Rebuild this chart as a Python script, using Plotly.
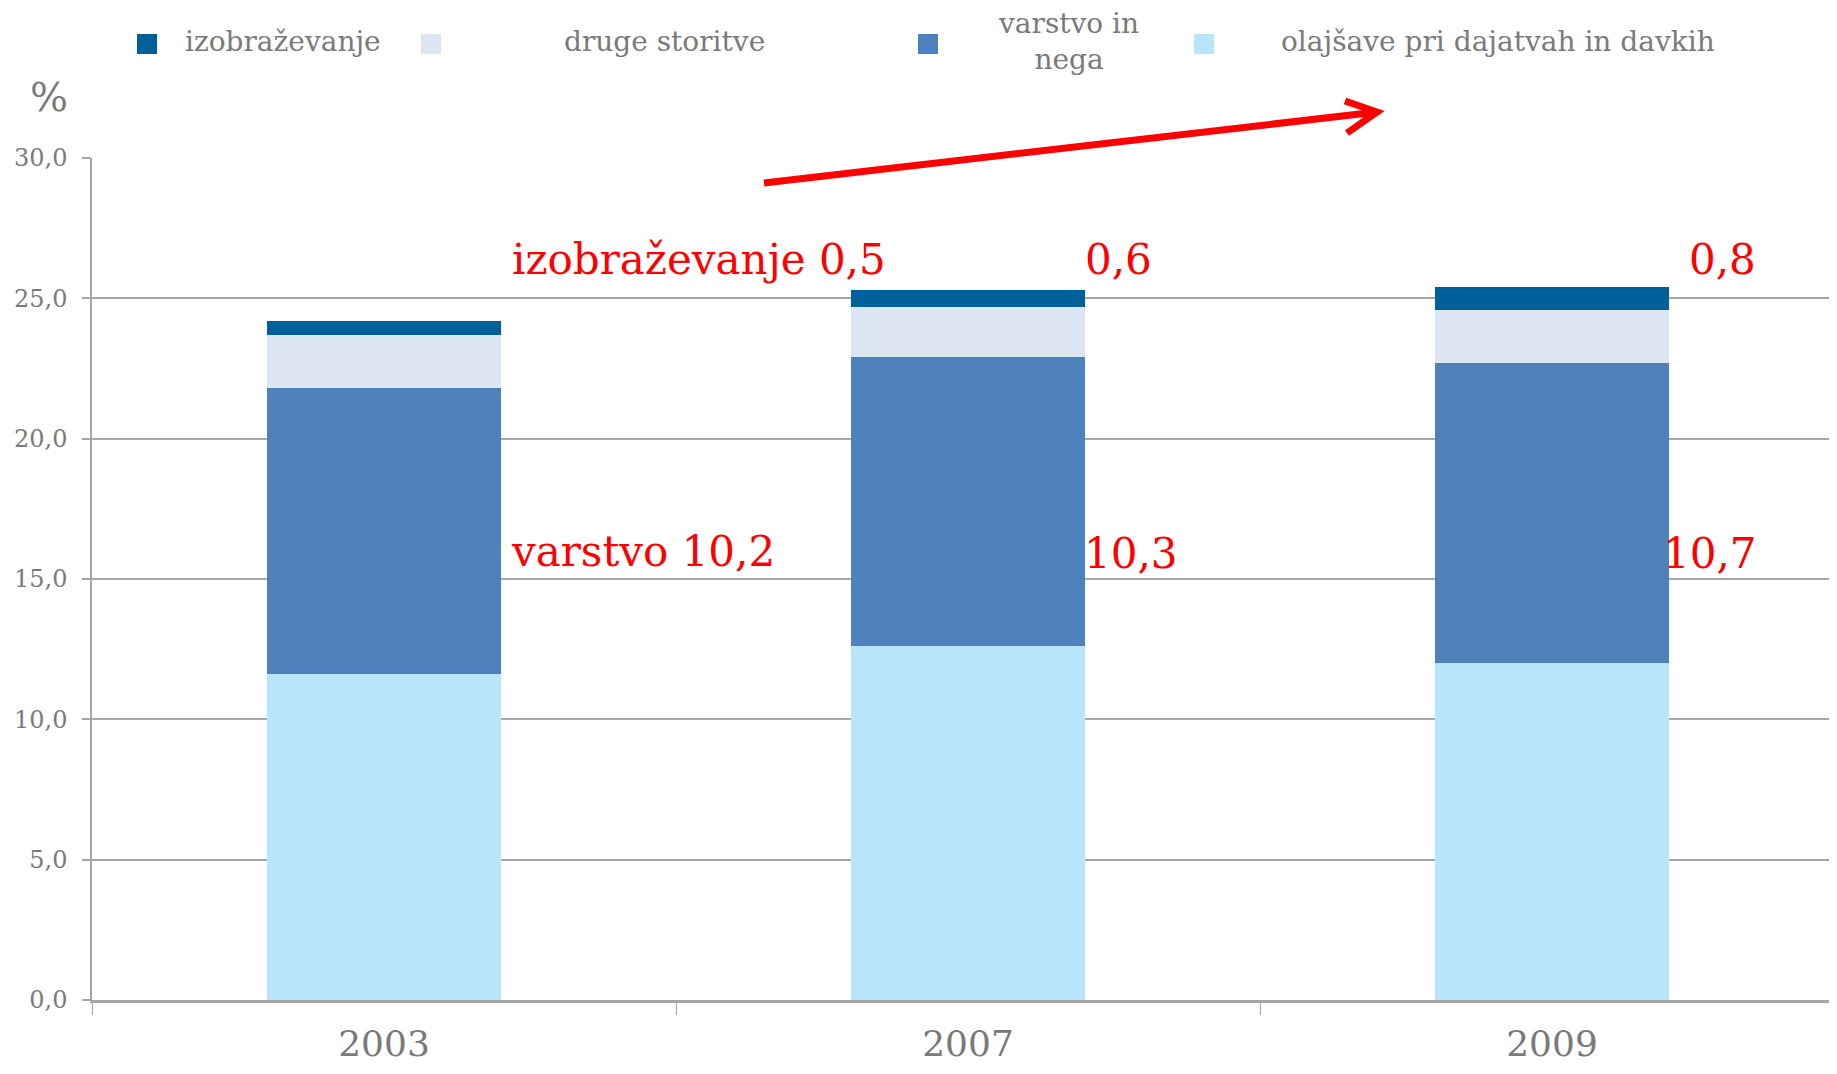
import plotly.graph_objects as go

years = ["2003", "2007", "2009"]
olajsave = [11.6, 12.6, 12.0]
varstvo = [10.2, 10.3, 10.7]
druge = [1.9, 1.8, 1.9]
izobrazevanje = [0.5, 0.6, 0.8]

names = ["izobraževanje", "druge storitve", "varstvo in<br>nega", "olajšave pri dajatvah in davkih"]
colors = {"izob": "#00619A", "druge": "#DCE6F2", "varstvo": "#4F81BD", "olaj": "#B9E5FB"}

OFF = 8  # page body margin
W, H = 1837 - 2 * OFF, 1074 - 2 * OFF
L, R, T = 92 - OFF, 0, 158 - OFF
B = H - (1000 - OFF)
PW, PH = W - L - R, H - T - B

def px(x):
    return (x - OFF - L) / PW

def py(y):
    return (H - B - (y - OFF)) / PH

FONT = "DejaVu Serif"
GRAY = "#7a7a7a"
LINE = "#a6a6a6"

fig = go.Figure()
for vals, key, nm in [(olajsave, "olaj", names[3]), (varstvo, "varstvo", names[2]),
                      (druge, "druge", names[1]), (izobrazevanje, "izob", names[0])]:
    fig.add_trace(go.Bar(x=years, y=vals, name=nm, marker=dict(color=colors[key], line=dict(width=0)),
                         width=0.4, showlegend=False))

shapes = []
annotations = []

# legend (custom, Excel-like layout)
leg = [
    ("izob", 137, "izobraževanje", 283),
    ("druge", 421, "druge storitve", 664),
    ("varstvo", 918, "varstvo in<br>nega", 1068),
    ("olaj", 1194, "olajšave pri dajatvah in davkih", 1498),
]
for key, sx, txt, tx in leg:
    shapes.append(dict(type="rect", xref="paper", yref="paper", x0=px(sx), x1=px(sx + 20),
                       y0=py(54), y1=py(34), fillcolor=colors[key], line=dict(width=0)))
    annotations.append(dict(xref="paper", yref="paper", x=px(tx), y=py(42), text=txt, showarrow=False,
                            xanchor="center", yanchor="middle", font=dict(family=FONT, size=28, color=GRAY)))

# % label
annotations.append(dict(xref="paper", yref="paper", x=px(49), y=py(97), text="%", showarrow=False,
                        xanchor="center", yanchor="middle", font=dict(family=FONT, size=40, color=GRAY)))

# red annotations
red = [
    ("izobraževanje 0,5", 699, 260),
    ("0,6", 1118, 260),
    ("0,8", 1722, 260),
    ("varstvo 10,2", 643, 551),
    ("10,3", 1131, 553),
    ("10,7", 1710, 553),
]
for txt, x, y in red:
    annotations.append(dict(xref="paper", yref="paper", x=px(x), y=py(y), text=txt, showarrow=False,
                            xanchor="center", yanchor="middle", font=dict(family=FONT, size=42, color="#FF0000")))

# red arrow
sx, sy = 764, 183
tx_, ty_ = 1377, 112
ux, uy = 1345, 101
lx, ly = 1347, 133
path = (f"M {px(sx)} {py(sy)} L {px(tx_)} {py(ty_)} "
        f"M {px(ux)} {py(uy)} L {px(tx_)} {py(ty_)} L {px(lx)} {py(ly)}")
shapes.append(dict(type="path", xref="paper", yref="paper", path=path, line=dict(color="#FF0000", width=7)))

cat_px = 584
fig.update_layout(
    width=W, height=H,
    margin=dict(l=L, r=R, t=T, b=B, autoexpand=False),
    barmode="stack",
    paper_bgcolor="white", plot_bgcolor="white",
    separators=", ",
    shapes=shapes, annotations=annotations,
    showlegend=False,
    font=dict(family=FONT, color=GRAY),
)
fig.update_xaxes(type="category", range=[-0.5, -0.5 + PW / cat_px], showline=True, linecolor=LINE, linewidth=2.5,
                 ticks="outside", tickson="boundaries", ticklen=12, tickwidth=1, tickcolor=LINE,
                 tickfont=dict(family=FONT, size=36, color=GRAY), ticklabelstandoff=10,
                 showgrid=False, automargin=False)
fig.update_yaxes(range=[0, 30], dtick=5, tickformat=".1f", showline=True, linecolor=LINE, linewidth=1.5,
                 ticks="outside", ticklen=8, tickwidth=1.5, tickcolor=LINE,
                 tickfont=dict(family=FONT, size=24, color=GRAY), ticklabelstandoff=10,
                 showgrid=True, gridcolor=LINE, gridwidth=1.5, zeroline=False, automargin=False)

fig.write_html("out.html")
